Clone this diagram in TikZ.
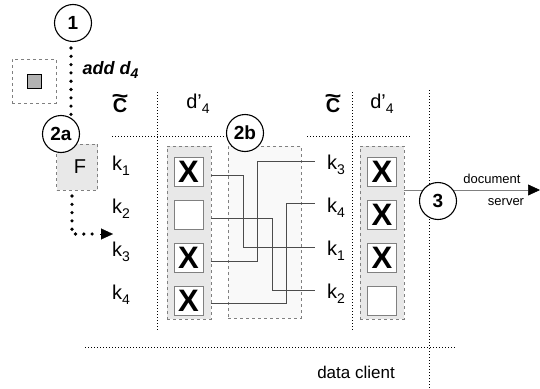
\documentclass[tikz,border=0pt]{standalone}
\usepackage{fontspec}
\setmainfont{Liberation Sans}
\usetikzlibrary{arrows.meta}
% letter with a lowered subscript, as used for k_i and d'_4
\newcommand\lowsub[2]{#1\raisebox{-0.45ex}{\fontsize{14}{14}\selectfont #2}}
% bold C with a wide tilde on top
\newcommand\tildeC{\ooalign{\bfseries C\cr
  \hidewidth\raisebox{0.45em}{\scalebox{1.45}[1.1]{\bfseries\char"7E}}\hidewidth\cr}}
\begin{document}
\begin{tikzpicture}[x=1pt,y=-1pt,
  num/.style={circle,draw,line width=1.1pt,fill=white,minimum size=37pt,inner sep=0pt,
              font=\fontsize{19}{19}\selectfont\bfseries},
  grid/.style={dotted,line width=1pt},
  bigdots/.style={line width=3.6pt,dash pattern=on 0pt off 8.3pt,line cap=round},
  column/.style={draw=gray,dashed,fill=gray!18,line width=0.6pt,inner sep=0pt,
                 minimum width=44pt,minimum height=173pt},
  cell/.style={draw=gray,fill=white,line width=0.8pt,minimum size=29pt,inner sep=0pt,
               font=\fontsize{31}{31}\selectfont\bfseries},
  wire/.style={draw=black!70,line width=0.6pt},
  klab/.style={font=\fontsize{20}{20}\selectfont,inner sep=0pt},
  head/.style={font=\fontsize{20}{20}\selectfont,inner sep=0pt},
  tip/.style={-{Triangle[length=12pt,width=11pt,color=black]}},
]
\useasboundingbox (0,0) rectangle (540,388);

% ---- grid lines of the two tables and the client/server border
\draw[grid] (157,92) -- (157,330);
\draw[grid] (112,136) -- (230,136);
\draw[grid] (352,92) -- (352,330);
\draw[grid] (307,136) -- (410,136);
\draw[grid] (429,90) -- (429,388);
\draw[grid] (85,347) -- (455,347);
\node[font=\fontsize{17}{17}\selectfont] (client) at (356,372) {data client};

% ---- document icon
\node[draw=gray,dashed,fill=white,minimum size=44pt,inner sep=0pt] (doc) at (34,81) {};
\node[draw,fill=gray!60,minimum size=14pt,inner sep=0pt,line width=0.8pt] (docin) at (doc) {};

% ---- step 1 and 2a
\node[num] (s1) at (73,23) {1};
\node[font=\fontsize{18}{18}\selectfont\bfseries\itshape,anchor=west] (add) at (79,70) {add \lowsub{d}{4}};
\node[draw=gray,dashed,fill=gray!18,minimum width=41pt,minimum height=46pt,inner sep=0pt,
      font=\fontsize{20}{20}\selectfont] (F) at (77,167) {\hspace*{6pt}F};
\node[num] (s2a) at (61,134) {2a};
\draw[bigdots] (71,48) -- (71,116);
\coordinate (fend) at (113,234);
\draw[bigdots] (72,196) -- (72,234) -- (96,234);
\draw[tip,line width=0.2pt] (100,234) -- (fend);

% ---- left table
\node[head] (c1) at (120,106) {\tildeC};
\node[head] (d1) at (198,104) {\lowsub{d’}{4}};
\node[klab] (lk1) at (121,166) {\lowsub{k}{1}};
\node[klab] (lk2) at (121,209) {\lowsub{k}{2}};
\node[klab] (lk3) at (121,252) {\lowsub{k}{3}};
\node[klab] (lk4) at (121,295) {\lowsub{k}{4}};
\node[column] (lcol) at (189,232.5) {};
\node[cell] (L1) at (188.5,171.5) {X};
\node[cell] (L2) at (188.5,215) {};
\node[cell] (L3) at (188.5,257.5) {X};
\node[cell] (L4) at (188.5,301) {X};

% ---- permutation step 2b
\node[draw=gray,dashed,fill=gray!5,minimum width=73pt,minimum height=172pt,inner sep=0pt,
      line width=0.6pt] (perm) at (264.5,232) {};
\node[num] (s2b) at (245,133) {2b};

% ---- right table
\node[head] (c2) at (333,106) {\tildeC};
\node[head] (d2) at (382,104) {\lowsub{d’}{4}};
\node[klab] (rk3) at (336,165) {\lowsub{k}{3}};
\node[klab] (rk4) at (336,208) {\lowsub{k}{4}};
\node[klab] (rk1) at (336,251) {\lowsub{k}{1}};
\node[klab] (rk2) at (336,294) {\lowsub{k}{2}};
\node[column] (rcol) at (382,232.5) {};
\node[cell] (R1) at (382,171.5) {X};
\node[cell] (R2) at (382,215) {X};
\node[cell] (R3) at (382,257.5) {X};
\node[cell] (R4) at (382,301) {};

% ---- wires of the permutation
\draw[wire] (lcol.east |- 0,175) -- (243,175) -- (243,247) -- (315,247);
\draw[wire] (lcol.east |- 0,218) -- (272,218) -- (272,290) -- (315,290);
\draw[wire] (lcol.east |- 0,261) -- (257,261) -- (257,161) -- (315,161);
\draw[wire] (lcol.east |- 0,303) -- (286,303) -- (286,203) -- (315,203);

% ---- step 3 to the document server
\coordinate (srv) at (540,190);
\draw[gray,line width=0.6pt,tip] (rcol.east |- srv) -- (srv);
\node[num] (s3) at (438,201) {3};
\node[font=\fontsize{13}{13}\selectfont] (docw) at (492,179) {document};
\node[font=\fontsize{13}{13}\selectfont] (srvw) at (506,202) {server};
\end{tikzpicture}
\end{document}
